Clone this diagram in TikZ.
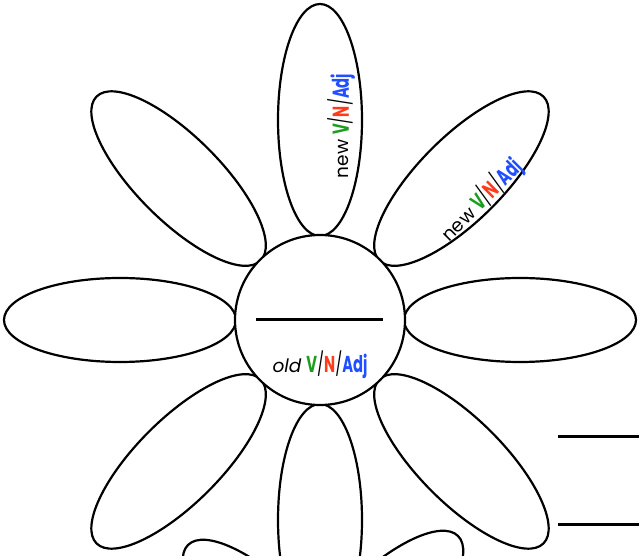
\documentclass[tikz,border=0pt]{standalone}
\usepackage{fontspec}
\setmainfont{Poppins}
\usepackage{tikz}
\usetikzlibrary{shapes.geometric, positioning, calc}
\definecolor{verbcol}{HTML}{1E9E1E}
\definecolor{nouncol}{HTML}{FF3B1A}
\definecolor{adjcol}{HTML}{1F4FFF}
\newcommand{\vna}{\scalebox{0.64}[1]{\fontsize{23}{26}\selectfont\textbf{\textcolor{verbcol}{V}}/\textbf{\textcolor{nouncol}{N}}/\textbf{\textcolor{adjcol}{Adj}}}}

\begin{document}
\begin{tikzpicture}[x=1pt, y=1pt, line width=2.2pt]
    \tikzstyle{petal} = [ellipse, draw=black, fill=white, minimum width=232pt, minimum height=84pt, inner sep=0pt]
    \tikzstyle{label} = [font=\fontsize{18.5}{21}\selectfont, inner sep=0pt]

    \useasboundingbox (0,0) rectangle (639,556);
    \clip (0,0) rectangle (639,556);

    \coordinate (c) at (320,236);

    % petals of the flower
    \foreach \a in {0,45,...,315}
        \node [petal, rotate=\a] (p\a) at ($(c)+(\a:200)$) {};
    \node [petal, rotate=-45] (q1) at (270,-71) {};
    \node [petal, rotate=45] (q2) at (376,-62) {};

    \node [circle, draw=black, fill=white, minimum size=170pt, inner sep=0pt] (disc) at (c) {};

    \draw [line width=3pt] ($(disc.center)+(-64,0)$) -- ($(disc.center)+(63,0)$);
    \node [label, below=30pt of disc.center] (old) {\textit{old} \vna};

    \node [label, rotate=90] (new1) at (341,430) {new \vna};
    \node [label, rotate=45] (new2) at (481,356) {new \vna};

    % blanks on the right
    \coordinate (b1) at (558,119);
    \coordinate (b2) at (558,31);
    \draw [line width=3pt] (b1) -- ++(90,0);
    \draw [line width=3pt] (b2) -- ++(90,0);
\end{tikzpicture}
\end{document}
